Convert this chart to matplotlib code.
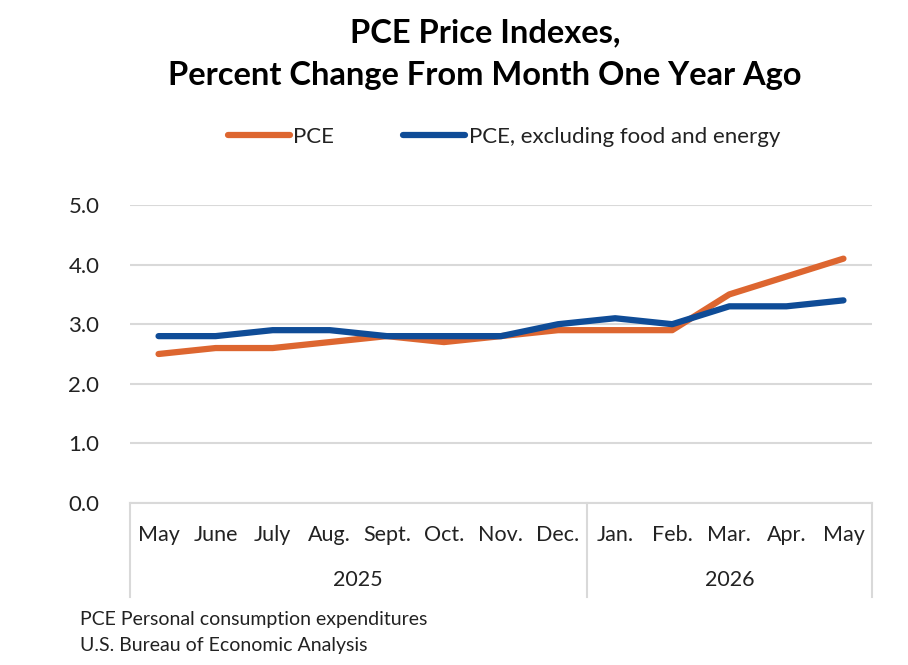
import numpy as np
import matplotlib
matplotlib.use("Agg")
import matplotlib.pyplot as plt
import matplotlib.transforms as mtransforms

plt.rcParams['font.family'] = ['Lato', 'DejaVu Sans']

# data
months = ['May', 'June', 'July', 'Aug.', 'Sept.', 'Oct.', 'Nov.', 'Dec.',
          'Jan.', 'Feb.', 'Mar.', 'Apr.', 'May']
years = ['2025', '2026']
year_counts = [8, 5]
pce = [2.5, 2.6, 2.6, 2.7, 2.8, 2.7, 2.8, 2.9, 2.9, 2.9, 3.5, 3.8, 4.1]
pce_core = [2.8, 2.8, 2.9, 2.9, 2.8, 2.8, 2.8, 3.0, 3.1, 3.0, 3.3, 3.3, 3.4]

orange = '#DD6630'
blue = '#0F4C97'
grid_gray = '#D9D9D9'
text_col = '#222222'

fig = plt.figure(figsize=(9.08, 6.65), dpi=100)
ax = fig.add_axes([130 / 908, 1 - 503 / 665, 742 / 908, 298 / 665])

x = np.arange(len(months))
l1, = ax.plot(x, pce, color=orange, lw=4.5, solid_capstyle='round', label='PCE')
l2, = ax.plot(x, pce_core, color=blue, lw=4.5, solid_capstyle='round',
              label='PCE, excluding food and energy')

ax.set_xlim(-0.5, len(months) - 0.5)
ax.set_ylim(0, 5)
ax.set_yticks(np.arange(0, 5.1, 1.0))
ax.set_yticklabels([f'{v:.1f}' for v in np.arange(0, 5.1, 1.0)],
                   fontsize=16, color=text_col)
ax.tick_params(axis='y', length=0, pad=22)
ax.set_xticks([])
ax.grid(axis='y', color=grid_gray, lw=1.5)
ax.set_axisbelow(True)
for s in ['top', 'right', 'left']:
    ax.spines[s].set_visible(False)
ax.spines['bottom'].set_color(grid_gray)
ax.spines['bottom'].set_linewidth(1.5)

# category axis: months and year groups
trans = mtransforms.blended_transform_factory(ax.transData, ax.transAxes)
for i, m in enumerate(months):
    ax.text(i, -0.107, m, transform=trans, ha='center', va='center',
            fontsize=15.5, color=text_col)
start = -0.5
bounds = [start]
for name, n in zip(years, year_counts):
    ax.text(start + n / 2, -0.258, name, transform=trans, ha='center',
            va='center', fontsize=15.5, color=text_col)
    start += n
    bounds.append(start)
for b in bounds:
    ax.plot([b, b], [0, -0.315], transform=trans, color=grid_gray, lw=1.5,
            clip_on=False)

fig.text(0.534, 1 - 33 / 665, 'PCE Price Indexes,', ha='center', va='center',
         fontsize=23.5, fontweight='bold', color='black')
fig.text(0.534, 1 - 75 / 665, 'Percent Change From Month One Year Ago',
         ha='center', va='center', fontsize=23.5, fontweight='bold', color='black')

fig.legend(handles=[l1, l2], loc='center', bbox_to_anchor=(504 / 908, 1 - 137 / 665),
           ncol=2, frameon=False, fontsize=16, handlelength=2.8,
           handletextpad=0.15, columnspacing=3.1, labelcolor=text_col)

fig.text(80 / 908, 1 - 620 / 665, 'PCE Personal consumption expenditures',
         ha='left', va='center', fontsize=14, color=text_col)
fig.text(80 / 908, 1 - 645 / 665, 'U.S. Bureau of Economic Analysis',
         ha='left', va='center', fontsize=14, color=text_col)

fig.savefig('out.png', dpi=100)
